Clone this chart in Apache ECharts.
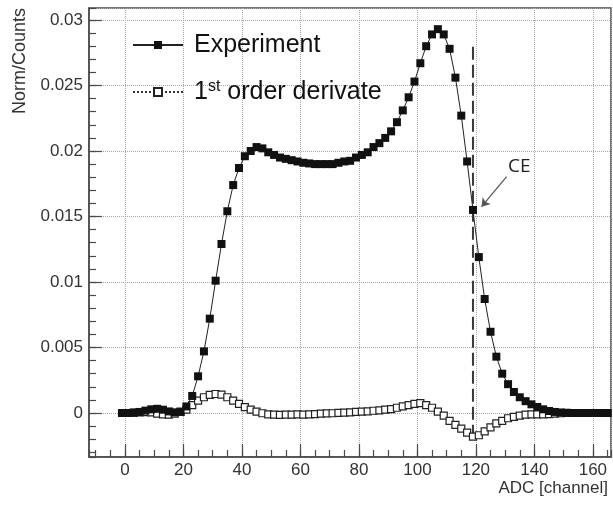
<!DOCTYPE html>
<html>
<head>
<meta charset="utf-8">
<script src="https://cdn.jsdelivr.net/npm/echarts@6/dist/echarts.min.js"></script>
<style>
  html, body { margin: 0; padding: 0; background: #fff; }
  #chart { width: 613px; height: 505px; }
</style>
</head>
<body>
<div id="chart"></div>
<script>
// ADC channels (bin centres)
const channels = [
  -1, 1, 3, 5, 7, 9, 11, 13, 15, 17, 19, 21, 23, 25, 27, 29, 31, 33, 35, 37,
  39, 41, 43, 45, 47, 49, 51, 53, 55, 57, 59, 61, 63, 65, 67, 69, 71, 73, 75, 77,
  79, 81, 83, 85, 87, 89, 91, 93, 95, 97, 99, 101, 103, 105, 107, 109, 111, 113, 115, 117,
  119, 121, 123, 125, 127, 129, 131, 133, 135, 137, 139, 141, 143, 145, 147, 149, 151, 153, 155, 157,
  159, 161, 163, 165
];

// Normalised measured spectrum
const experiment = [
  0, 0, 0.00002, 0.00008, 0.00018, 0.00028, 0.00032, 0.00025, 0.00012, 0.00005,
  0.0001, 0.0005, 0.0013, 0.0028, 0.0047, 0.0072, 0.0101, 0.0129, 0.0154, 0.0174,
  0.0187, 0.0196, 0.0200, 0.0203, 0.0202, 0.0199, 0.0197, 0.0195, 0.0194, 0.0193,
  0.0192, 0.0191, 0.01905, 0.0190, 0.0190, 0.0190, 0.0190, 0.0191, 0.0192, 0.01925,
  0.0195, 0.0197, 0.0199, 0.0203, 0.0206, 0.0210, 0.0215, 0.0222, 0.0231, 0.0241,
  0.0253, 0.0267, 0.0280, 0.0289, 0.0293, 0.0289, 0.0278, 0.0256, 0.0227, 0.0192,
  0.0155, 0.0119, 0.0087, 0.0062, 0.0043, 0.0030, 0.0022, 0.0016, 0.0012, 0.0009,
  0.00066, 0.00046, 0.00028, 0.00015, 0.00008, 0.00004, 0.00002, 0, 0, 0,
  0, 0, 0, 0
];

// First order derivative of the spectrum
const derivative = [
  0, 0, 0.00002, 0.00005, 0.00006, 0.00004, -0.00005, -0.0001, -0.00012, -0.00005,
  0.00008, 0.00025, 0.0006, 0.00095, 0.0012, 0.00138, 0.00145, 0.0014, 0.0012, 0.00095,
  0.0007, 0.00045, 0.00025, 0.0001, -0.00002, -0.0001, -0.00013, -0.00015, -0.00013, -0.00012,
  -0.0001, -0.00012, -0.0001, -0.00008, -0.00005, -0.00003, -0.00002, 0.00001, 0.00003, 0.00005,
  0.00008, 0.0001, 0.00013, 0.00017, 0.0002, 0.00025, 0.0003, 0.0004, 0.0005, 0.0006,
  0.0007, 0.00075, 0.0006, 0.0004, 0.0001, -0.0002, -0.0006, -0.0009, -0.0012, -0.0015,
  -0.0018, -0.0017, -0.0014, -0.0011, -0.0008, -0.0006, -0.0004, -0.0003, -0.0002, -0.00012,
  -0.0001, -0.0001, -0.0001, -0.00008, -0.00005, -0.00002, 0, 0, 0, 0,
  0, 0, 0, 0
];

// Compton edge marker
const ceChannel = 119;
const ceLineRange = [-0.0019, 0.02834];
const ceArrowFrom = [130.5, 0.01804];
const ceArrowTo = [121.95, 0.01575];
const ceLabelAt = [134.8, 0.0188];

const seriesNames = ['Experiment', '1st order derivate'];

const xRange = [-12.3, 166.2];
const yRange = [-0.00336, 0.030916];

const FONT = "'Liberation Sans', Arial, Helvetica, sans-serif";
const AXIS_COLOR = '#4a4a4a';

const pairs = (xs, ys) => xs.map((x, i) => [x, ys[i]]);

const chart = echarts.init(document.getElementById('chart'), null, { renderer: 'canvas' });

const tickStyle = { color: AXIS_COLOR, width: 1.2 };

chart.setOption({
  animation: false,
  backgroundColor: '#fff',
  grid: {
    left: 89, top: 8, right: 2, bottom: 48,
    show: true, borderColor: AXIS_COLOR, borderWidth: 1.5, backgroundColor: 'transparent'
  },
  xAxis: [
    {
      type: 'value', position: 'bottom', min: xRange[0], max: xRange[1], splitNumber: 9,
      axisLine: { show: true, onZero: false, lineStyle: { color: AXIS_COLOR, width: 1.5 } },
      axisTick: { show: true, inside: true, length: 13, lineStyle: tickStyle },
      axisLabel: { show: true, margin: 5, showMinLabel: false, showMaxLabel: false,
        fontSize: 17, fontFamily: FONT, color: '#333' },
      splitLine: { show: true, lineStyle: { type: 'dotted', color: '#a8a8a8', width: 1 } }
    },
    {
      // minor ticks
      type: 'value', position: 'bottom', min: xRange[0], max: xRange[1], splitNumber: 36,
      axisLine: { show: false, onZero: false },
      axisTick: { show: true, inside: true, length: 7, lineStyle: tickStyle },
      axisLabel: { show: false },
      splitLine: { show: false }
    }
  ],
  yAxis: [
    {
      type: 'value', position: 'left', min: yRange[0], max: yRange[1], splitNumber: 7,
      axisLine: { show: true, onZero: false, lineStyle: { color: AXIS_COLOR, width: 1.5 } },
      axisTick: { show: true, inside: true, length: 13, lineStyle: tickStyle },
      axisLabel: { show: true, margin: 6, showMinLabel: false, showMaxLabel: false,
        fontSize: 17, fontFamily: FONT, color: '#333' },
      splitLine: { show: true, lineStyle: { type: 'dotted', color: '#a8a8a8', width: 1 } }
    },
    {
      // minor ticks
      type: 'value', position: 'left', min: yRange[0], max: yRange[1], splitNumber: 34,
      axisLine: { show: false, onZero: false },
      axisTick: { show: true, inside: true, length: 7, lineStyle: tickStyle },
      axisLabel: { show: false },
      splitLine: { show: false }
    }
  ],
  legend: [
    {
      data: [seriesNames[0]], orient: 'vertical', left: 132, top: 32, padding: 0,
      itemWidth: 50, itemHeight: 10, selectedMode: false,
      textStyle: { fontSize: 25, fontFamily: FONT, color: '#111', lineHeight: 26, padding: [0, 0, 0, 6] }
    },
    {
      data: [seriesNames[1]], orient: 'vertical', left: 132, top: 79, padding: 0,
      itemWidth: 50, itemHeight: 10, selectedMode: false,
      formatter: () => '{n|1}{s|st}{n| order derivate}',
      textStyle: {
        fontSize: 25, fontFamily: FONT, color: '#111', lineHeight: 26, padding: [0, 0, 0, 6],
        rich: {
          n: { fontSize: 25, fontFamily: FONT, color: '#111', lineHeight: 26 },
          s: { fontSize: 16, fontFamily: FONT, color: '#111', lineHeight: 26, verticalAlign: 'top' }
        }
      }
    }
  ],
  series: [
    {
      name: 'CE',
      type: 'line',
      data: [[ceChannel, ceLineRange[0]], [ceChannel, ceLineRange[1]]],
      symbol: 'none',
      z: 1,
      lineStyle: { color: '#3a3a3a', width: 2, type: [13, 5] },
      markLine: {
        silent: true,
        symbol: ['none', 'arrow'],
        symbolSize: 8,
        label: { show: false },
        lineStyle: { color: '#555', width: 1.2, type: 'solid' },
        data: [[{ coord: ceArrowFrom }, { coord: ceArrowTo }]]
      },
      markPoint: {
        silent: true,
        symbol: 'rect', symbolSize: 1,
        itemStyle: { color: 'rgba(0,0,0,0)' },
        label: { show: true, position: 'inside', formatter: 'CE', fontSize: 19,
          fontFamily: "'Open Sans', sans-serif", color: '#222' },
        data: [{ coord: ceLabelAt }]
      }
    },
    {
      name: seriesNames[1],
      type: 'line',
      data: pairs(channels, derivative),
      symbol: 'rect', symbolSize: 7,
      z: 2,
      itemStyle: { color: '#fff', borderColor: '#222', borderWidth: 1.2 },
      lineStyle: { color: '#333', width: 1, type: 'dotted' }
    },
    {
      name: seriesNames[0],
      type: 'line',
      data: pairs(channels, experiment),
      symbol: 'rect', symbolSize: 8,
      z: 3,
      itemStyle: { color: '#111' },
      lineStyle: { color: '#222', width: 1 }
    }
  ],
  graphic: [
    {
      type: 'text', x: 608, y: 488, silent: true,
      style: { text: 'ADC [channel]', fill: '#333', font: '17px ' + FONT,
        align: 'right', verticalAlign: 'middle', textAlign: 'right', textVerticalAlign: 'middle' }
    },
    {
      type: 'text', x: 20, y: 8, rotation: Math.PI / 2, silent: true,
      style: { text: 'Norm/Counts', fill: '#333', font: '18px ' + FONT,
        align: 'right', verticalAlign: 'middle', textAlign: 'right', textVerticalAlign: 'middle' }
    }
  ]
});
</script>
</body>
</html>
